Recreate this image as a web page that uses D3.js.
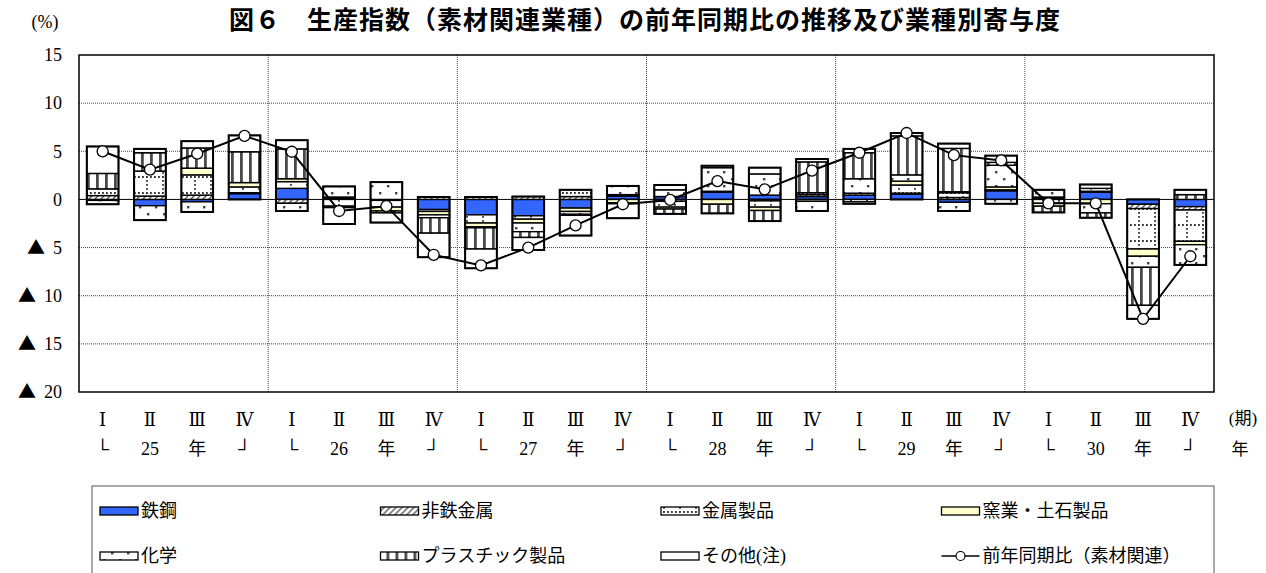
<!DOCTYPE html>
<html>
<head>
<meta charset="utf-8">
<script src="https://cdn.jsdelivr.net/npm/d3@7"></script>
<style>
body { margin: 0; background: #fff; }
svg { display: block; }
</style>
</head>
<body>
<script>
var w = 1266, h = 573;

// quarters / years
var quarters = ["Ⅰ", "Ⅱ", "Ⅲ", "Ⅳ"];
var years = ["25", "26", "27", "28", "29", "30"];
var periods = [];
years.forEach(function(y) { quarters.forEach(function(q) { periods.push(y + q); }); });

// contributions by industry (%)
var tekko   = [-0.1, -0.65, -0.25, 0.6, 1.15, 0.15, 0.0, -1.05, -1.6, -1.7, -0.9, 0.35, 0.3, 0.75, 0.45, 0.3, 0.45, 0.55, -0.3, 0.9, 0.15, 0.75, -0.5, -0.75];
var hitetsu = [0.4, 0.35, 0.45, 0.1, -0.4, 0.1, -0.1, 0.25, 0.25, 0.3, 0.3, 0.05, -0.2, 0.05, -0.15, 0.2, 0.2, 0.1, 0.2, 0.1, 0.1, 0.1, -0.45, -0.35];
var kinzoku = [0.7, 2.6, 2.1, 0.6, 0.7, -0.7, -0.7, -0.2, -0.85, -0.35, 0.7, 0.1, -0.6, 0.05, -0.65, 0.2, -0.25, 0.85, 0.5, -0.45, -0.4, 0.3, -4.2, -3.25];
var yogyo   = [0.0, 0.0, 0.7, 0.45, 0.3, -0.15, -0.4, -0.35, -0.4, -0.4, -0.35, -0.35, -0.2, -0.5, -0.35, -0.2, -0.2, 0.4, 0.1, 0.3, -0.3, -0.45, -0.75, -0.35];
var kagaku  = [-0.4, -1.5, -1.05, 0.0, -0.8, 1.1, 1.8, -0.3, -0.1, -0.9, -0.3, 0.9, 0.7, 2.45, 2.2, -1.0, 1.5, 0.65, -0.9, 2.25, 0.75, -0.95, -1.15, -2.1];
var plastic = [1.6, 1.9, 2.1, 3.2, 3.1, 0.0, -0.2, -1.6, -2.2, -0.6, -0.1, -0.1, -0.5, -0.95, -1.1, 3.2, 2.7, 4.05, 4.5, 0.3, -0.65, -0.5, -3.95, 0.5];
var sonota  = [2.8, 0.4, 0.7, 1.7, 0.9, -1.7, -1.0, -2.5, -2.0, -1.3, -2.1, -1.5, 0.5, 0.2, 0.65, 0.3, 0.4, 0.3, 0.5, 0.7, 0.0, 0.4, -1.4, 0.5];
// year-on-year change (素材関連)
var zennen  = [5.0, 3.1, 4.75, 6.6, 4.95, -1.2, -0.7, -5.75, -6.85, -5.0, -2.7, -0.5, -0.05, 1.9, 1.05, 3.0, 4.85, 6.9, 4.6, 4.05, -0.4, -0.4, -12.4, -5.9];

var yTicks = [15, 10, 5, 0, -5, -10, -15, -20];

var keys = ["tekko", "hitetsu", "kinzoku", "yogyo", "kagaku", "plastic", "sonota"];
var names = ["鉄鋼", "非鉄金属", "金属製品", "窯業・土石製品", "化学", "プラスチック製品", "その他(注)"];
var fills = ["#3366ff", "url(#p-hitetsu)", "url(#p-kinzoku)", "#ffffcc", "url(#p-kagaku)", "url(#p-plastic)", "#ffffff"];
var seriesArr = [tekko, hitetsu, kinzoku, yogyo, kagaku, plastic, sonota];

var table = periods.map(function(p, i) {
  var row = { period: p };
  keys.forEach(function(k, j) { row[k] = seriesArr[j][i]; });
  return row;
});

var serif = "'Liberation Serif', 'Noto Sans CJK JP', serif";
var cjk = "'Noto Sans CJK JP', sans-serif";

var svg = d3.select("body").append("svg").attr("width", w).attr("height", h);

// patterns
var defs = svg.append("defs");
var p1 = defs.append("pattern").attr("id", "p-hitetsu").attr("patternUnits", "userSpaceOnUse")
  .attr("width", 6).attr("height", 6);
p1.append("rect").attr("width", 6).attr("height", 6).attr("fill", "#fff");
p1.append("path").attr("d", "M-1,7 L7,-1 M-1,1 L1,-1 M5,7 L7,5").attr("stroke", "#555").attr("stroke-width", 1.3);

var p2 = defs.append("pattern").attr("id", "p-kinzoku").attr("patternUnits", "userSpaceOnUse")
  .attr("width", 16).attr("height", 16).attr("x", 2).attr("y", 0);
p2.append("rect").attr("width", 16).attr("height", 16).attr("fill", "#fff");
p2.append("path").attr("d", "M0,1 H16 M1,0 V16").attr("stroke", "#333").attr("stroke-width", 1.8)
  .attr("stroke-dasharray", "1.8,2.2");

var p3 = defs.append("pattern").attr("id", "p-kagaku").attr("patternUnits", "userSpaceOnUse")
  .attr("width", 16).attr("height", 14);
p3.append("rect").attr("width", 16).attr("height", 14).attr("fill", "#fff");
p3.append("rect").attr("x", 3).attr("y", 3).attr("width", 2.4).attr("height", 2.4).attr("fill", "#444");
p3.append("rect").attr("x", 11).attr("y", 10).attr("width", 2.4).attr("height", 2.4).attr("fill", "#444");

var p4 = defs.append("pattern").attr("id", "p-plastic").attr("patternUnits", "userSpaceOnUse")
  .attr("width", 9).attr("height", 10).attr("x", 3);
p4.append("rect").attr("width", 9).attr("height", 10).attr("fill", "#fff");
p4.append("rect").attr("x", 3).attr("width", 2.8).attr("height", 10).attr("fill", "#4a4a4a");

// scales
var pLeft = 79, pRight = 1214, pTop = 55, pBottom = 392;
var x = d3.scaleBand().domain(periods).range([pLeft, pRight]).paddingInner(0.33).paddingOuter(0.165);
var xc = d3.scaleBand().domain(periods).range([pLeft, pRight]);
var y = d3.scaleLinear().domain([-20, 15]).range([pBottom, pTop]);

// grid
svg.append("g").selectAll("line").data([10, 5, -5, -10, -15]).enter().append("line")
  .attr("x1", pLeft).attr("x2", pRight)
  .attr("y1", function(d) { return y(d); }).attr("y2", function(d) { return y(d); })
  .attr("stroke", "#444").attr("stroke-width", 1).attr("stroke-dasharray", "1,1");
svg.append("g").selectAll("line").data([4, 8, 12, 16, 20]).enter().append("line")
  .attr("x1", function(d) { return xc(periods[d]); }).attr("x2", function(d) { return xc(periods[d]); })
  .attr("y1", pTop).attr("y2", pBottom)
  .attr("stroke", "#444").attr("stroke-width", 1).attr("stroke-dasharray", "1,1");
svg.append("line").attr("x1", pLeft).attr("x2", pRight).attr("y1", y(0)).attr("y2", y(0))
  .attr("stroke", "#000").attr("stroke-width", 1);

// stacked bars
var stack = d3.stack().keys(keys).offset(d3.stackOffsetDiverging);
var stacked = stack(table);

svg.append("g").selectAll("g").data(stacked).enter().append("g")
  .attr("fill", function(d, i) { return fills[i]; })
  .selectAll("rect")
  .data(function(d) { return d; })
  .enter().append("rect")
  .attr("x", function(d) { return x(d.data.period); })
  .attr("width", x.bandwidth())
  .attr("y", function(d) { return y(Math.max(d[0], d[1])); })
  .attr("height", function(d) { return Math.abs(y(d[0]) - y(d[1])); })
  .attr("stroke", "#000")
  .attr("stroke-width", 1.4);

// bar outlines
svg.append("g").selectAll("rect").data(table).enter().append("rect")
  .attr("x", function(d) { return x(d.period); })
  .attr("width", x.bandwidth())
  .attr("y", function(d) {
    var pos = d3.sum(keys, function(k) { return Math.max(0, d[k]); });
    return y(pos);
  })
  .attr("height", function(d) {
    var pos = d3.sum(keys, function(k) { return Math.max(0, d[k]); });
    var neg = d3.sum(keys, function(k) { return Math.min(0, d[k]); });
    return y(neg) - y(pos);
  })
  .attr("fill", "none").attr("stroke", "#000").attr("stroke-width", 2);

// line
var line = d3.line()
  .x(function(d, i) { return xc(periods[i]) + xc.bandwidth() / 2; })
  .y(function(d) { return y(d); });
svg.append("path").datum(zennen).attr("d", line)
  .attr("fill", "none").attr("stroke", "#000").attr("stroke-width", 2);
svg.append("g").selectAll("circle").data(zennen).enter().append("circle")
  .attr("cx", function(d, i) { return xc(periods[i]) + xc.bandwidth() / 2; })
  .attr("cy", function(d) { return y(d); })
  .attr("r", 5.5)
  .attr("fill", "#fff").attr("stroke", "#000").attr("stroke-width", 1.3);

// frame
svg.append("rect").attr("x", pLeft).attr("y", pTop).attr("width", pRight - pLeft).attr("height", pBottom - pTop)
  .attr("fill", "none").attr("stroke", "#000").attr("stroke-width", 1.5);

// y labels
var yl = svg.append("g").selectAll("text").data(yTicks).enter().append("text")
  .attr("x", 62).attr("y", function(d) { return y(d); })
  .attr("dy", "0.35em")
  .attr("text-anchor", "end")
  .attr("font-family", serif).attr("font-size", "18px");
yl.filter(function(d) { return d < 0; }).append("tspan")
  .attr("font-family", cjk).attr("font-size", "18px").text("▲");
yl.append("tspan")
  .attr("dx", function(d) { return d < 0 ? 8 : 0; })
  .text(function(d) { return Math.abs(d); });
svg.append("text").attr("x", 45).attr("y", 22).attr("dy", "0.35em").attr("text-anchor", "middle")
  .attr("font-family", serif).attr("font-size", "18px").text("(%)");

// x labels
svg.append("g").selectAll("text").data(periods).enter().append("text")
  .attr("x", function(d) { return xc(d) + xc.bandwidth() / 2; })
  .attr("y", 420).attr("dy", "0.35em").attr("text-anchor", "middle")
  .attr("font-family", "'DejaVu Serif', 'Noto Sans CJK JP', serif").attr("font-size", "18px")
  .text(function(d, i) { return quarters[i % 4]; });
svg.append("g").selectAll("text").data(periods).enter().append("text")
  .attr("x", function(d) { return xc(d) + xc.bandwidth() / 2; })
  .attr("y", 449).attr("dy", "0.35em").attr("text-anchor", "middle")
  .attr("font-family", serif).attr("font-size", "18px")
  .text(function(d, i) {
    var q = i % 4;
    if (q === 0) return "└";
    if (q === 1) return years[Math.floor(i / 4)];
    if (q === 2) return "年";
    return "┘";
  });
svg.append("text").attr("x", 1243).attr("y", 418).attr("dy", "0.35em").attr("text-anchor", "middle")
  .attr("font-family", serif).attr("font-size", "17px").text("(期)");
svg.append("text").attr("x", 1240).attr("y", 449).attr("dy", "0.35em").attr("text-anchor", "middle")
  .attr("font-family", serif).attr("font-size", "17px").text("年");

// title
svg.append("text").attr("x", 645).attr("y", 29).attr("text-anchor", "middle")
  .attr("font-family", cjk).attr("font-weight", "bold")
  .attr("font-size", "25px").attr("letter-spacing", "1px")
  .text("図６　生産指数（素材関連業種）の前年同期比の推移及び業種別寄与度");

// legend
var lg = svg.append("g");
var lx = 92, ly = 486, lw = 1214 - 92;
lg.append("rect").attr("x", lx).attr("y", ly).attr("width", lw).attr("height", 100)
  .attr("fill", "#fff").attr("stroke", "#555").attr("stroke-width", 1);
var colW = lw / 4;
var items = names.map(function(n, i) { return { name: n, fill: fills[i] }; });
items.push({ name: "前年同期比（素材関連）", line: true });
var li = lg.selectAll("g.item").data(items).enter().append("g").attr("class", "item")
  .attr("transform", function(d, i) {
    return "translate(" + (lx + 8 + (i % 4) * colW) + "," + (ly + 25 + Math.floor(i / 4) * 45) + ")";
  });
li.filter(function(d) { return !d.line; }).append("rect")
  .attr("x", 0).attr("y", -4).attr("width", 38).attr("height", 8)
  .attr("fill", function(d) { return d.fill; }).attr("stroke", "#000").attr("stroke-width", 1.3);
li.filter(function(d) { return d.line; }).append("line")
  .attr("x1", 0).attr("x2", 38).attr("y1", 0).attr("y2", 0).attr("stroke", "#000").attr("stroke-width", 1.6);
li.filter(function(d) { return d.line; }).append("circle")
  .attr("cx", 19).attr("cy", 0).attr("r", 4.5).attr("fill", "#fff").attr("stroke", "#000").attr("stroke-width", 1.2);
li.append("text").attr("x", 41).attr("y", 0).attr("dy", "0.35em")
  .attr("font-family", serif).attr("font-size", "18px")
  .text(function(d) { return d.name; });
</script>
</body>
</html>
